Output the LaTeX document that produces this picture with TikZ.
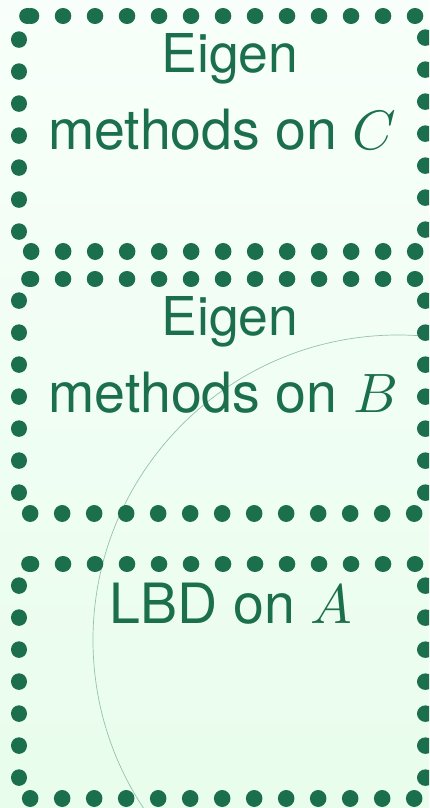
\documentclass[tikz,border=0pt]{standalone}
\usepackage{fontspec}
\usepackage{unicode-math}
\setmainfont{TeX Gyre Heros}
\setmathfont{Latin Modern Math}
\definecolor{dgreen}{RGB}{27,111,76}
\definecolor{bgtop}{RGB}{248,255,250}
\definecolor{bgbot}{RGB}{232,253,236}
\definecolor{arcc}{RGB}{150,192,176}
\begin{document}
\begin{tikzpicture}[x=1pt,y=-1pt,
  dotline/.style={draw=dgreen, line width=16.5pt, line cap=round, line join=round, dash pattern=on 0.05pt off 31.95pt},
  boxnode/.style={rectangle, inner sep=0pt, minimum width=406pt, anchor=north west},
  lbl/.style={text=dgreen, font=\fontsize{55.5}{60}\selectfont, inner sep=0pt, anchor=base},
  lblsm/.style={lbl, font=\fontsize{53.5}{60}\selectfont}]
\useasboundingbox (0,0) rectangle (429,808);
\clip (0,0) rectangle (429,808);
\shade[top color=bgtop, bottom color=bgbot] (0,0) rectangle (429,808);
\draw[arcc, line width=0.7pt] (398,640) circle[radius=305pt];
% boxes
\node[boxnode, minimum height=235pt] (b1) at (19,16) {};
\node[boxnode, minimum height=234pt] (b2) at (19,279) {};
\node[boxnode, minimum height=234pt] (b3) at (19,564) {};
\foreach \b in {b1,b2,b3}{
  \draw[dotline] ([xshift=12pt]\b.north west) -- (\b.north east) -- (\b.south east) -- (\b.south west) -- (\b.north west) -- cycle;
}
% labels
\node[lblsm] (t1a) at (230,72) {Eigen};
\node[lbl] (t1b) at (222.5,149) {methods on $C$};
\node[lblsm] (t2a) at (230,335) {Eigen};
\node[lbl] (t2b) at (222.5,412) {methods on $B$};
\node[lbl] (t3) at (231,623) {LBD on $A$};
\end{tikzpicture}
\end{document}
